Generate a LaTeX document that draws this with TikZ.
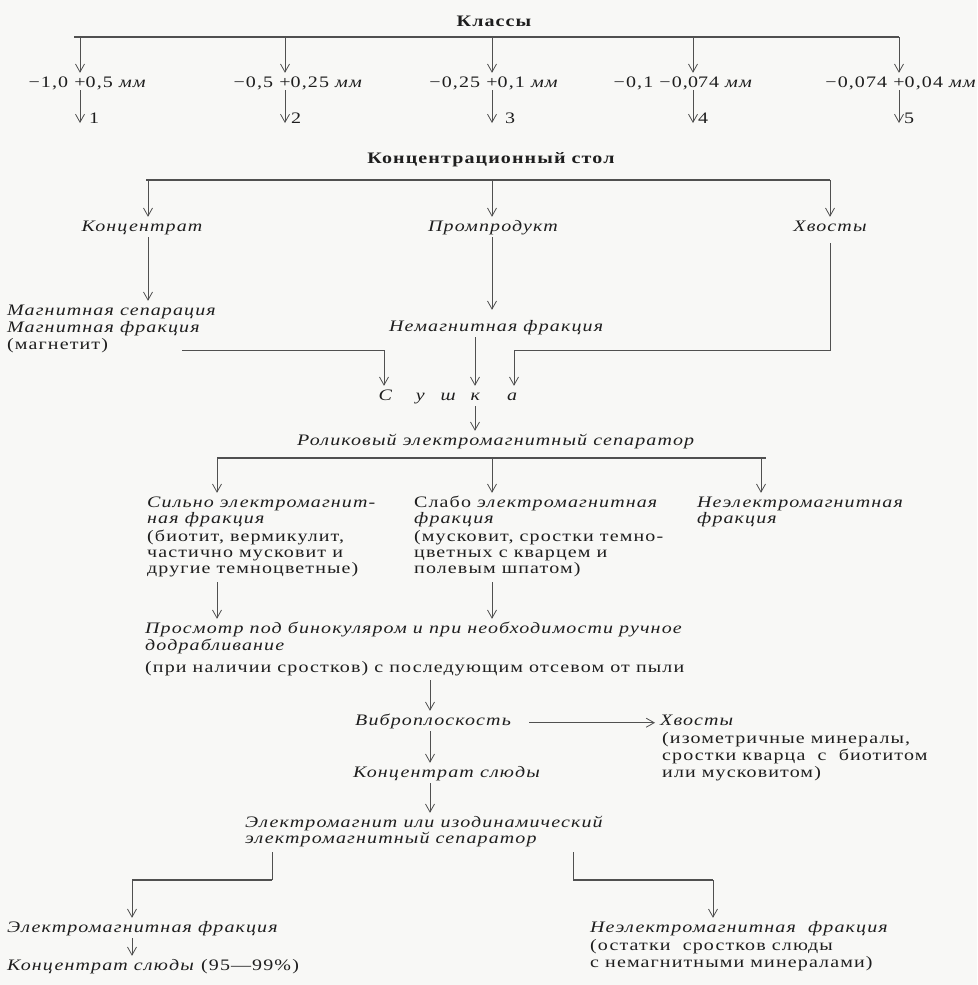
\documentclass[tikz,border=0pt]{standalone}
\usepackage{fontspec}
\setmainfont{Liberation Serif}[FakeStretch=1.25,LetterSpace=7]
\usetikzlibrary{arrows.meta}
\definecolor{bg}{RGB}{248,248,246}
\definecolor{tc}{RGB}{30,30,30}
\definecolor{lc}{RGB}{80,80,80}
\newcommand\myfs{\fontsize{16pt}{16pt}\selectfont}
\begin{document}
\begin{tikzpicture}[x=1pt,y=-1pt,
  ln/.style={draw=lc, line width=0.8pt},
  bar/.style={draw=lc, line width=1.5pt},
  arr/.style={ln, -{Straight Barb[length=8pt,width=9pt]}},
  sh/.style={shorten <=3pt, shorten >=4pt},
  rm/.style={inner sep=0pt, anchor=base west, text=tc, text height=10pt, text depth=3pt, font=\myfs},
  it/.style={rm, font=\myfs\itshape},
  bf/.style={rm, anchor=base, font=\myfs\bfseries},
  lab/.style={rm, anchor=base},
  ctr/.style={it, anchor=base}]
\fill[bg] (0,0) rectangle (977,985);
\useasboundingbox (0,0) rectangle (977,985);

% ---------- Classes ----------
\node[bf] (klassy) at (494,27) {Классы};
\draw[bar] (74,37) coordinate (k0) -- (899,37) coordinate (k1);
\node[lab] (s1) at (80,87) {\llap{−1,0 }+\rlap{0,5 \textit{мм}}};
\node[lab] (s2) at (285,87) {\llap{−0,5 }+\rlap{0,25 \textit{мм}}};
\node[lab] (s3) at (492,87) {\llap{−0,25 }+\rlap{0,1 \textit{мм}}};
\node[lab] (s4) at (693,87) {\llap{−0,1 −0,}0\rlap{74 \textit{мм}}};
\node[lab] (s5) at (899,87) {\llap{−0,074 }+\rlap{0,04 \textit{мм}}};
\foreach \i in {1,...,5}{\draw[arr, shorten >=4pt] (s\i.north |- k0) -- (s\i.north);}
\node[rm] (n1) at (89,123) {1};
\node[rm] (n2) at (291,123) {2};
\node[rm] (n3) at (505,123) {3};
\node[rm] (n4) at (698,123) {4};
\node[rm] (n5) at (904,123) {5};
\foreach \i in {1,...,5}{\draw[arr] (s\i.south) -- (s\i.south |- n\i.base);}

% ---------- Concentration table ----------
\node[bf] (stol) at (491,163) {Концентрационный стол};
\draw[bar] (146,180) -- (830,180);
\coordinate (p1) at (148,180);
\coordinate (p2) at (492,180);
\coordinate (p3) at (830,180);
\node[ctr] (konc) at (142,231) {Концентрат};
\node[ctr] (prom) at (493,231) {Промпродукт};
\node[ctr] (xv1) at (830,231) {Хвосты};
\draw[arr, shorten >=4pt] (p1) -- (p1 |- konc.north);
\draw[arr, shorten >=4pt] (p2) -- (p2 |- prom.north);
\draw[arr, shorten >=4pt] (p3) -- (p3 |- xv1.north);

\node[it] (ms) at (7,315) {Магнитная сепарация};
\node[it] (mf) at (7,332) {Магнитная фракция};
\node[rm] (mg) at (7,349) {(магнетит)};
\node[it] (nemag) at (389,331) {Немагнитная фракция};
\node[it, anchor=base west] (sushka) at (385,400)
  {\makebox[0pt]{С}\hspace{35pt}\makebox[0pt]{у}\hspace{28pt}\makebox[0pt]{ш}\hspace{27pt}\makebox[0pt]{к}\hspace{37pt}\makebox[0pt]{а}};
\draw[arr, shorten <=3pt, shorten >=4pt] (p1 |- konc.south) -- (p1 |- ms.north);
\draw[arr, shorten <=3pt, shorten >=11pt] (p2 |- prom.south) -- (p2 |- nemag.north);

\coordinate (m1) at (182,350);
\coordinate (cL) at (384,350);
\coordinate (cM) at (475,350);
\coordinate (cR) at (514,350);
\draw[arr, shorten >=4pt] (m1) -- (cL) -- (cL |- sushka.north);
\draw[arr, sh] (cM |- nemag.south) -- (cM |- sushka.north);
\draw[arr, shorten <=9pt, shorten >=4pt] (xv1.south) |- (cR) -- (cR |- sushka.north);

% ---------- Roller separator ----------
\node[it] (rol) at (297,445) {Роликовый электромагнитный сепаратор};
\draw[arr, sh] (cM |- sushka.south) -- (cM |- rol.north);
\draw[bar] (217,458) -- (766,458);
\coordinate (q1) at (217,458);
\coordinate (q2) at (492,458);
\coordinate (q3) at (761,458);

\node[it] (c1a) at (147,507) {Сильно электромагнит-};
\node[it] (c1b) at (147,523) {ная фракция};
\node[rm] (c1c) at (147,541) {(биотит, вермикулит,};
\node[rm] (c1d) at (147,557) {частично мусковит и};
\node[rm] (c1e) at (147,573) {другие темноцветные)};
\node[rm] (c2a) at (414,507) {Слабо \textit{электромагнитная}};
\node[it] (c2b) at (414,523) {фракция};
\node[rm] (c2c) at (414,541) {(мусковит, сростки темно-};
\node[rm] (c2d) at (414,557) {цветных с кварцем и};
\node[rm] (c2e) at (414,573) {полевым шпатом)};
\node[it] (c3a) at (697,507) {Неэлектромагнитная};
\node[it] (c3b) at (697,523) {фракция};
\draw[arr, shorten >=4pt] (q1) -- (q1 |- c1a.north);
\draw[arr, shorten >=4pt] (q2) -- (q2 |- c2a.north);
\draw[arr, shorten >=4pt] (q3) -- (q3 |- c3a.north);

% ---------- Binocular inspection ----------
\node[it] (pr1) at (145,633) {Просмотр под бинокуляром и при необходимости ручное};
\node[it] (pr2) at (145,650) {додрабливание};
\node[rm] (pr3) at (145,672) {(при наличии сростков) с последующим отсевом от пыли};
\draw[arr, shorten <=6pt, shorten >=4pt] (q1 |- c1e.south) -- (q1 |- pr1.north);
\draw[arr, shorten <=6pt, shorten >=4pt] (q2 |- c2e.south) -- (q2 |- pr1.north);

% ---------- Vibro plane ----------
\coordinate (vx) at (430,700);
\node[it] (vib) at (355,725) {Виброплоскость};
\node[it] (xv2) at (660,725) {Хвосты};
\node[rm] (xa) at (662,743) {(изометричные минералы,};
\node[rm] (xb) at (662,760) {сростки кварца \ с \ биотитом};
\node[rm] (xc) at (662,777) {или мусковитом)};
\draw[arr, shorten <=5pt, shorten >=4pt] (vx |- pr3.south) -- (vx |- vib.north);
\draw[arr, shorten <=18pt, shorten >=5pt] (vib.mid east) -- (vib.mid east -| xv2.west);

\node[it] (ks) at (353,777) {Концентрат слюды};
\draw[arr, sh] (vx |- vib.south) -- (vx |- ks.north);
\node[it] (em1) at (245,827) {Электромагнит или изодинамический};
\node[it] (em2) at (245,843) {электромагнитный сепаратор};
\draw[arr, sh] (vx |- ks.south) -- (vx |- em1.north);

% ---------- Final split ----------
\coordinate (bl) at (272,880);
\coordinate (bl2) at (132,880);
\coordinate (br) at (573,880);
\coordinate (br2) at (713,880);
\draw[ln, shorten <=6pt] (bl |- em2.south) -- (bl);
\draw[ln, shorten <=6pt] (br |- em2.south) -- (br);
\draw[bar] (bl) -- (bl2);
\draw[bar] (br) -- (br2);

\node[it] (emf) at (7,932) {Электромагнитная фракция};
\node[rm] (kf) at (7,970) {\textit{Концентрат слюды} (95—99\%)};
\node[it] (enf) at (590,932) {Неэлектромагнитная \ фракция};
\node[rm] (eo1) at (590,950) {(остатки \ сростков слюды};
\node[rm] (eo2) at (590,967) {с немагнитными минералами)};
\draw[arr, shorten >=4pt] (bl2) -- (bl2 |- emf.north);
\draw[arr, shorten >=4pt] (br2) -- (br2 |- enf.north);
\draw[arr, sh] (bl2 |- emf.south) -- (bl2 |- kf.north);
\end{tikzpicture}
\end{document}
